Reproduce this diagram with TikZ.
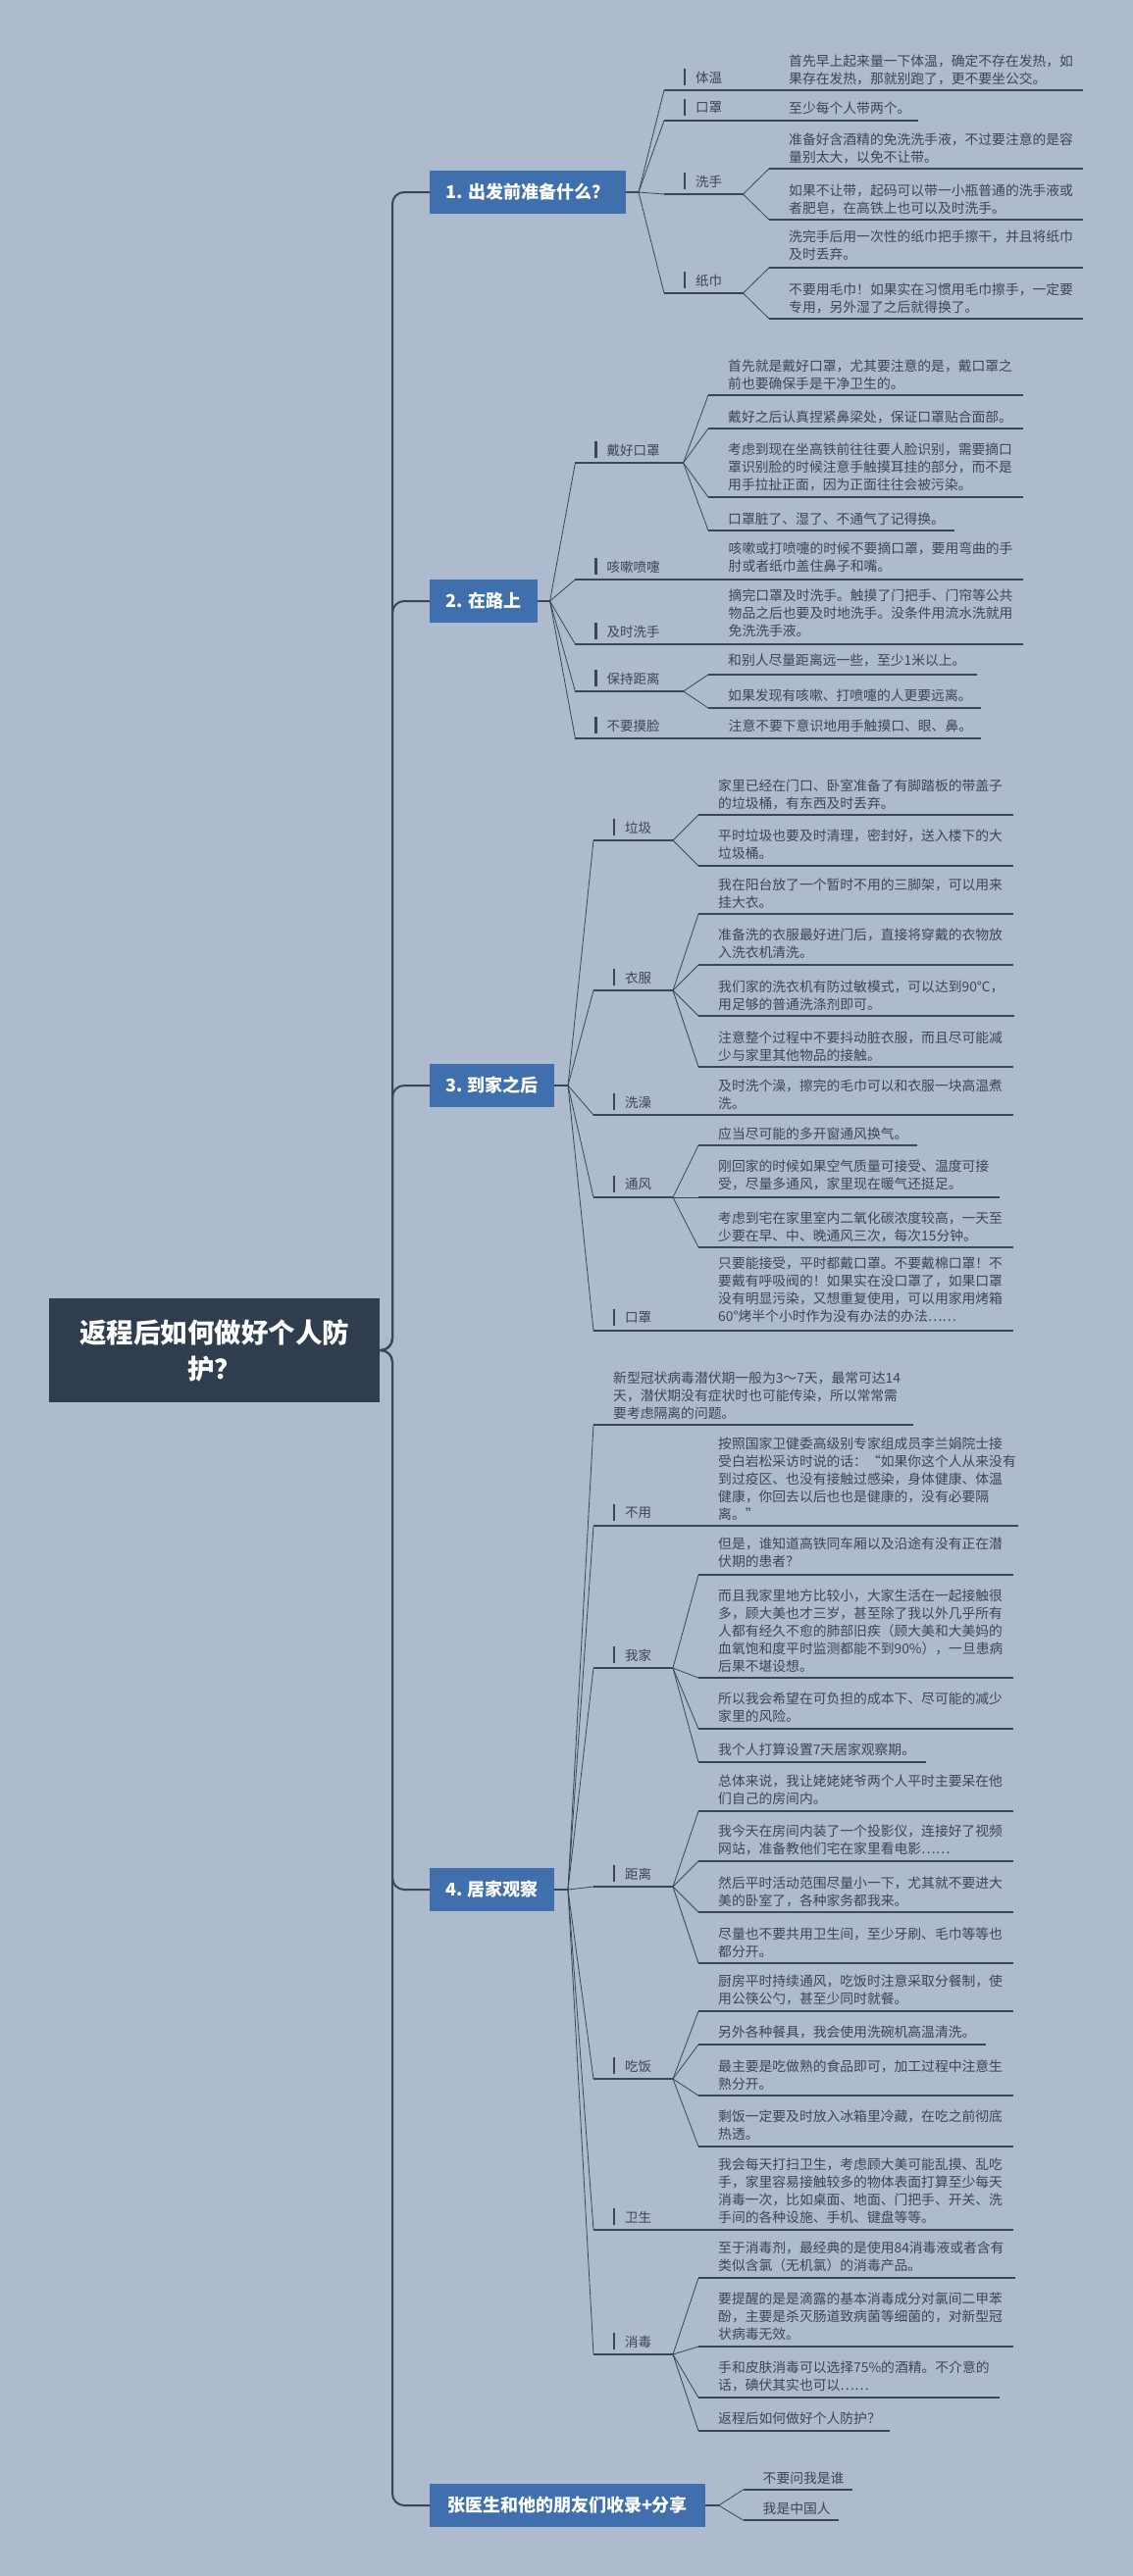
\documentclass[tikz,border=0pt]{standalone}
\usepackage{fontspec}
\setmainfont{Noto Sans CJK SC}
\definecolor{bg}{HTML}{AEBACD}
\definecolor{ln}{HTML}{39465A}
\definecolor{txt}{HTML}{3E4552}
\definecolor{boxc}{HTML}{3F6FAD}
\definecolor{rootc}{HTML}{2F3D4E}
\tikzset{
  fan/.style={draw=ln, line width=0.8pt},
  under/.style={draw=ln, line width=1.3pt},
  bar/.style={draw=ln, line width=2.6pt},
  trunk/.style={draw=ln, line width=2pt, rounded corners=12pt},
  thickln/.style={draw=ln, line width=2.6pt},
  lab/.style={anchor=west, inner sep=0pt, text=txt, font=\fontsize{13.5}{15}\selectfont},
  leaf/.style={anchor=base west, inner sep=0pt, text=txt, font=\fontsize{13.8}{18}\selectfont},
  lone/.style={fill=boxc, text=white, font=\fontsize{18}{20}\selectfont\bfseries, inner sep=0pt, minimum height=44pt},
  rootbox/.style={fill=rootc, text=white, font=\fontsize{27.5}{37}\selectfont\bfseries, inner sep=0pt, align=center, minimum width=337pt, minimum height=106pt}
}
\newcommand{\Topic}[6]{%
  \coordinate (#1a) at (#3,#4);
  \coordinate (#1b) at (#5,#4);
  \draw[fan] (#2) -- (#1a);
  \draw[under] (#1a) -- (#1b);
  \draw[bar] (#3+21,#4-5) -- (#3+21,#4-22);
  \node[lab] (#1) at (#3+32,#4-13) {#6};
}
\newcommand{\Leaf}[7]{%
  \coordinate (#1a) at (#3,#4);
  \coordinate (#1b) at (#5,#4);
  \draw[fan] (#2) -- (#1a);
  \draw[under] (#1a) -- (#1b);
  \node[leaf] (#1) at (#3+20,#6+5.3) {\begin{tabular}[t]{@{}l@{}}#7\end{tabular}};
}
\newcommand{\Note}[4]{%
  \node[leaf] (#1) at (#2,#3+5.3) {\begin{tabular}[t]{@{}l@{}}#4\end{tabular}};
}
\begin{document}
\begin{tikzpicture}[x=1pt,y=-1pt]
\useasboundingbox[fill=bg] (0,0) rectangle (1155,2627);

% root
\node[rootbox] (root) at (218.5,1377) {返程后如何做好个人防\\护？};

% level-1 boxes
\node[lone, minimum width=200pt] (s1) at (538,196) {1. 出发前准备什么？};
\node[lone, minimum width=110pt] (s2) at (493,613) {2. 在路上};
\node[lone, minimum width=127pt] (s3) at (501.5,1107) {3. 到家之后};
\node[lone, minimum width=127pt] (s4) at (501.5,1927) {4. 居家观察};
\node[lone, minimum width=281pt] (s5) at (578.5,2555) {张医生和他的朋友们收录+分享};

\coordinate (tk) at (400,1377);
\foreach \s in {s1,s2,s3,s4,s5}{
  \draw[trunk] (root.east) -- (tk) |- (\s.west);
}

% fan points
\coordinate (f1) at (651,196);
\coordinate (f2) at (560.6,613);
\coordinate (f3) at (579,1107);
\coordinate (f4) at (579,1927);
\coordinate (f5) at (732.7,2555);
\draw[thickln] (s1.east) -- (f1);
\draw[thickln] (s2.east) -- (f2);
\draw[thickln] (s3.east) -- (f3);
\draw[thickln] (s4.east) -- (f4);
\draw[thickln] (s5.east) -- (f5);

% ---------- section 1
\Topic{t11}{f1}{677}{92}{1104}{体温}
\Note{l11}{804}{62}{首先早上起来量一下体温，确定不存在发热，如\\果存在发热，那就别跑了，更不要坐公交。}
\Topic{t12}{f1}{677}{123}{936}{口罩}
\Note{l12}{804}{110}{至少每个人带两个。}
\Topic{t13}{f1}{677}{198}{757.5}{洗手}
\Leaf{l131}{t13b}{784}{172}{1104}{142}{准备好含酒精的免洗洗手液，不过要注意的是容\\量别太大，以免不让带。}
\Leaf{l132}{t13b}{784}{224}{1104}{194}{如果不让带，起码可以带一小瓶普通的洗手液或\\者肥皂，在高铁上也可以及时洗手。}
\Topic{t14}{f1}{677}{299}{757.5}{纸巾}
\Leaf{l141}{t14b}{784}{273}{1104}{241}{洗完手后用一次性的纸巾把手擦干，并且将纸巾\\及时丢弃。}
\Leaf{l142}{t14b}{784}{325}{1104}{295}{不要用毛巾！如果实在习惯用毛巾擦手，一定要\\专用，另外湿了之后就得换了。}

% ---------- section 2
\Topic{t21}{f2}{586.4}{472}{696.6}{戴好口罩}
\Leaf{l211}{t21b}{722}{403}{1042.5}{373}{首先就是戴好口罩，尤其要注意的是，戴口罩之\\前也要确保手是干净卫生的。}
\Leaf{l212}{t21b}{722}{437}{1042.5}{425}{戴好之后认真捏紧鼻梁处，保证口罩贴合面部。}
\Leaf{l213}{t21b}{722}{507}{1042.5}{458}{考虑到现在坐高铁前往往要人脸识别，需要摘口\\罩识别脸的时候注意手触摸耳挂的部分，而不是\\用手拉扯正面，因为正面往往会被污染。}
\Leaf{l214}{t21b}{722}{541}{973}{529}{口罩脏了、湿了、不通气了记得换。}
\Topic{t22}{f2}{586.4}{591}{1042.5}{咳嗽喷嚏}
\Note{l22}{742.5}{559}{咳嗽或打喷嚏的时候不要摘口罩，要用弯曲的手\\肘或者纸巾盖住鼻子和嘴。}
\Topic{t23}{f2}{586.4}{657}{1042.5}{及时洗手}
\Note{l23}{742.5}{607}{摘完口罩及时洗手。触摸了门把手、门帘等公共\\物品之后也要及时地洗手。没条件用流水洗就用\\免洗洗手液。}
\Topic{t24}{f2}{586.4}{705}{696.6}{保持距离}
\Leaf{l241}{t24b}{722}{688}{995.6}{673}{和别人尽量距离远一些，至少1米以上。}
\Leaf{l242}{t24b}{722}{722}{1000}{709}{如果发现有咳嗽、打喷嚏的人更要远离。}
\Topic{t25}{f2}{586.4}{753}{1000}{不要摸脸}
\Note{l25}{742.5}{740}{注意不要下意识地用手触摸口、眼、鼻。}

% ---------- section 3
\Topic{t31}{f3}{605}{857}{686}{垃圾}
\Leaf{l311}{t31b}{712}{831}{1033}{801}{家里已经在门口、卧室准备了有脚踏板的带盖子\\的垃圾桶，有东西及时丢弃。}
\Leaf{l312}{t31b}{712}{883}{1033}{852}{平时垃圾也要及时清理，密封好，送入楼下的大\\垃圾桶。}
\Topic{t32}{f3}{605}{1010}{686}{衣服}
\Leaf{l321}{t32b}{712}{932}{1033}{902}{我在阳台放了一个暂时不用的三脚架，可以用来\\挂大衣。}
\Leaf{l322}{t32b}{712}{984}{1033}{953}{准备洗的衣服最好进门后，直接将穿戴的衣物放\\入洗衣机清洗。}
\Leaf{l323}{t32b}{712}{1036}{1034}{1006}{我们家的洗衣机有防过敏模式，可以达到90℃，\\用足够的普通洗涤剂即可。}
\Leaf{l324}{t32b}{712}{1088}{1033}{1058}{注意整个过程中不要抖动脏衣服，而且尽可能减\\少与家里其他物品的接触。}
\Topic{t33}{f3}{605}{1137}{1033}{洗澡}
\Note{l33}{732}{1107}{及时洗个澡，擦完的毛巾可以和衣服一块高温煮\\洗。}
\Topic{t34}{f3}{605}{1221}{686}{通风}
\Leaf{l341}{t34b}{712}{1168}{934.7}{1156}{应当尽可能的多开窗通风换气。}
\Leaf{l342}{t34b}{712}{1221}{1019}{1189}{刚回家的时候如果空气质量可接受、温度可接\\受，尽量多通风，家里现在暖气还挺足。}
\Leaf{l343}{t34b}{712}{1272}{1033}{1242}{考虑到宅在家里室内二氧化碳浓度较高，一天至\\少要在早、中、晚通风三次，每次15分钟。}
\Topic{t35}{f3}{605}{1357}{1033}{口罩}
\Note{l35}{732}{1288}{只要能接受，平时都戴口罩。不要戴棉口罩！不\\要戴有呼吸阀的！如果实在没口罩了，如果口罩\\没有明显污染，又想重复使用，可以用家用烤箱\\60°烤半个小时作为没有办法的办法……}

% ---------- section 4
\Leaf{l40}{f4}{605}{1453}{931}{1405}{新型冠状病毒潜伏期一般为3～7天，最常可达14\\天，潜伏期没有症状时也可能传染，所以常常需\\要考虑隔离的问题。}
\Topic{t41}{f4}{605}{1556}{1038}{不用}
\Note{l41}{732}{1472}{按照国家卫健委高级别专家组成员李兰娟院士接\\受白岩松采访时说的话：“如果你这个人从来没有\\到过疫区、也没有接触过感染，身体健康、体温\\健康，你回去以后也也是健康的，没有必要隔\\离。”}
\Topic{t42}{f4}{605}{1701}{686}{我家}
\Leaf{l421}{t42b}{712}{1606}{1033}{1574}{但是，谁知道高铁同车厢以及沿途有没有正在潜\\伏期的患者？}
\Leaf{l422}{t42b}{712}{1711}{1033}{1627}{而且我家里地方比较小，大家生活在一起接触很\\多，顾大美也才三岁，甚至除了我以外几乎所有\\人都有经久不愈的肺部旧疾（顾大美和大美妈的\\血氧饱和度平时监测都能不到90\%），一旦患病\\后果不堪设想。}
\Leaf{l423}{t42b}{712}{1763}{1033}{1732}{所以我会希望在可负担的成本下、尽可能的减少\\家里的风险。}
\Leaf{l424}{t42b}{712}{1797}{944}{1784}{我个人打算设置7天居家观察期。}
\Topic{t43}{f4}{605}{1924}{686}{距离}
\Leaf{l431}{t43b}{712}{1847}{1033}{1816}{总体来说，我让姥姥姥爷两个人平时主要呆在他\\们自己的房间内。}
\Leaf{l432}{t43b}{712}{1898}{1033}{1867}{我今天在房间内装了一个投影仪，连接好了视频\\网站，准备教他们宅在家里看电影……}
\Leaf{l433}{t43b}{712}{1950}{1033}{1920}{然后平时活动范围尽量小一下，尤其就不要进大\\美的卧室了，各种家务都我来。}
\Leaf{l434}{t43b}{712}{2002}{1033}{1972}{尽量也不要共用卫生间，至少牙刷、毛巾等等也\\都分开。}
\Topic{t44}{f4}{605}{2120}{686}{吃饭}
\Leaf{l441}{t44b}{712}{2051}{1033}{2020}{厨房平时持续通风，吃饭时注意采取分餐制，使\\用公筷公勺，甚至少同时就餐。}
\Leaf{l442}{t44b}{712}{2085}{1005}{2072}{另外各种餐具，我会使用洗碗机高温清洗。}
\Leaf{l443}{t44b}{712}{2137}{1033}{2107}{最主要是吃做熟的食品即可，加工过程中注意生\\熟分开。}
\Leaf{l444}{t44b}{712}{2189}{1033}{2158}{剩饭一定要及时放入冰箱里冷藏，在吃之前彻底\\热透。}
\Topic{t45}{f4}{605}{2274}{1033}{卫生}
\Note{l45}{732}{2207}{我会每天打扫卫生，考虑顾大美可能乱摸、乱吃\\手，家里容易接触较多的物体表面打算至少每天\\消毒一次，比如桌面、地面、门把手、开关、洗\\手间的各种设施、手机、键盘等等。}
\Topic{t46}{f4}{605}{2401}{686}{消毒}
\Leaf{l461}{t46b}{712}{2323}{1035}{2292}{至于消毒剂，最经典的是使用84消毒液或者含有\\类似含氯（无机氯）的消毒产品。}
\Leaf{l462}{t46b}{712}{2393}{1033}{2344}{要提醒的是是滴露的基本消毒成分对氯间二甲苯\\酚，主要是杀灭肠道致病菌等细菌的，对新型冠\\状病毒无效。}
\Leaf{l463}{t46b}{712}{2445}{1019}{2414}{手和皮肤消毒可以选择75\%的酒精。不介意的\\话，碘伏其实也可以……}
\Leaf{l464}{t46b}{712}{2479}{906.5}{2466}{返程后如何做好个人防护？}

% ---------- section 5
\Leaf{l51}{f5}{757.5}{2539}{868.6}{2527}{不要问我是谁}
\Leaf{l52}{f5}{757.5}{2570}{854.5}{2558}{我是中国人}
\end{tikzpicture}
\end{document}
